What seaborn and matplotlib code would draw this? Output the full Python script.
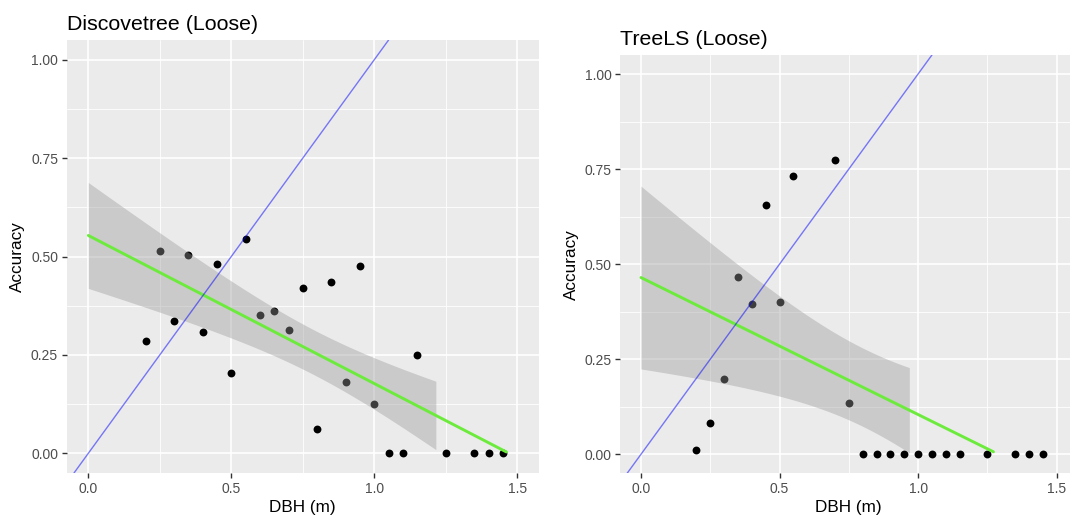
import math

import numpy as np
import pandas as pd
import seaborn as sns
import matplotlib
matplotlib.use("Agg")
import matplotlib.pyplot as plt
from matplotlib.ticker import FixedLocator

# ---- data -----------------------------------------------------------------
dbh_discovetree = [0.20, 0.25, 0.30, 0.35, 0.40, 0.45, 0.50, 0.55, 0.60, 0.65,
                   0.70, 0.75, 0.80, 0.85, 0.90, 0.95, 1.00, 1.05, 1.10, 1.15,
                   1.25, 1.35, 1.40, 1.45]
acc_discovetree = [0.286, 0.514, 0.335, 0.505, 0.307, 0.481, 0.205, 0.544, 0.351, 0.362,
                   0.313, 0.420, 0.062, 0.435, 0.182, 0.476, 0.125, 0.000, 0.000, 0.250,
                   0.000, 0.000, 0.000, 0.000]

dbh_treels = [0.20, 0.25, 0.30, 0.35, 0.40, 0.45, 0.50, 0.55, 0.70, 0.75,
              0.80, 0.85, 0.90, 0.95, 1.00, 1.05, 1.10, 1.15, 1.25, 1.35,
              1.40, 1.45]
acc_treels = [0.011, 0.083, 0.199, 0.465, 0.394, 0.655, 0.400, 0.733, 0.773, 0.136,
              0.000, 0.000, 0.000, 0.000, 0.000, 0.000, 0.000, 0.000, 0.000, 0.000,
              0.000, 0.000]

panel_titles = ["Discovetree (Loose)", "TreeLS (Loose)"]
x_breaks = [0.0, 0.5, 1.0, 1.5]
x_labels = ["0.0", "0.5", "1.0", "1.5"]
y_breaks = [0.00, 0.25, 0.50, 0.75, 1.00]
y_labels = ["0.00", "0.25", "0.50", "0.75", "1.00"]
x_limits = (0.0, 1.5)
y_limits = (0.0, 1.0)

# ---- helpers ----------------------------------------------------------------
def t_quantile(p, dof):
    """Student t quantile (Cornish-Fisher expansion around the normal quantile)."""
    try:
        from scipy import stats
        return float(stats.t.ppf(p, dof))
    except Exception:
        pass
    # normal quantile via bisection on erf
    lo, hi = -10.0, 10.0
    for _ in range(200):
        mid = 0.5 * (lo + hi)
        if 0.5 * (1 + math.erf(mid / math.sqrt(2))) < p:
            lo = mid
        else:
            hi = mid
    z = 0.5 * (lo + hi)
    v = float(dof)
    g1 = (z**3 + z) / 4
    g2 = (5 * z**5 + 16 * z**3 + 3 * z) / 96
    g3 = (3 * z**7 + 19 * z**5 + 17 * z**3 - 15 * z) / 384
    g4 = (79 * z**9 + 776 * z**7 + 1482 * z**5 - 1920 * z**3 - 945 * z) / 92160
    return z + g1 / v + g2 / v**2 + g3 / v**3 + g4 / v**4


def linear_smooth(x, y, lo, hi, n=80, level=0.95):
    """OLS fit over [lo, hi] with a pointwise confidence band."""
    x = np.asarray(x, float)
    y = np.asarray(y, float)
    slope, intercept = np.polyfit(x, y, 1)
    grid = np.linspace(lo, hi, n)
    fit = intercept + slope * grid
    resid = y - (intercept + slope * x)
    dof = len(x) - 2
    s = np.sqrt(np.sum(resid**2) / dof)
    xbar = x.mean()
    sxx = np.sum((x - xbar) ** 2)
    se = s * np.sqrt(1.0 / len(x) + (grid - xbar) ** 2 / sxx)
    t = t_quantile(0.5 + level / 2, dof)
    return pd.DataFrame({"x": grid, "y": fit, "ymin": fit - t * se, "ymax": fit + t * se})


# ---- style ------------------------------------------------------------------
sns.set_theme(style="darkgrid", rc={
    "axes.facecolor": "#EBEBEB",
    "grid.color": "white",
    "axes.edgecolor": "none",
    "xtick.color": "#333333",
    "ytick.color": "#333333",
    "xtick.labelcolor": "#4D4D4D",
    "ytick.labelcolor": "#4D4D4D",
    "xtick.bottom": True,
    "ytick.left": True,
    "xtick.major.size": 3.8,
    "ytick.major.size": 3.8,
    "xtick.major.width": 1.0,
    "ytick.major.width": 1.0,
    "xtick.major.pad": 2.5,
    "ytick.major.pad": 2.5,
})
plt.rcParams["font.family"] = ["Liberation Sans", "DejaVu Sans"]

W, H = 1070, 519
fig = plt.figure(figsize=(W / 100, H / 100), dpi=100)

# panel rectangles in pixels: left, top, right, bottom
panel_px = [(66.85, 40.0, 538.75, 473.0), (620.2, 55.0, 1077.4, 473.3)]

datasets = [(dbh_discovetree, acc_discovetree), (dbh_treels, acc_treels)]

for (x0, y0, x1, y1), (dbh, acc), title in zip(panel_px, datasets, panel_titles):
    ax = fig.add_axes([x0 / W, 1 - y1 / H, (x1 - x0) / W, (y1 - y0) / H])
    ax.set_facecolor("#EBEBEB")

    xr = x_limits[1] - x_limits[0]
    yr = y_limits[1] - y_limits[0]
    ax.set_xlim(x_limits[0] - 0.05 * xr, x_limits[1] + 0.05 * xr)
    ax.set_ylim(y_limits[0] - 0.05 * yr, y_limits[1] + 0.05 * yr)

    ax.xaxis.set_major_locator(FixedLocator(x_breaks))
    ax.yaxis.set_major_locator(FixedLocator(y_breaks))
    ax.set_xticklabels(x_labels, fontsize=10)
    ax.set_yticklabels(y_labels, fontsize=10)
    ax.xaxis.set_minor_locator(FixedLocator([(a + b) / 2 for a, b in zip(x_breaks[:-1], x_breaks[1:])]))
    ax.yaxis.set_minor_locator(FixedLocator([(a + b) / 2 for a, b in zip(y_breaks[:-1], y_breaks[1:])]))
    ax.tick_params(which="minor", length=0)
    ax.grid(which="major", color="white", linewidth=1.2)
    ax.grid(which="minor", color="white", linewidth=0.6)
    ax.set_axisbelow(True)
    for sp in ax.spines.values():
        sp.set_visible(False)

    df = pd.DataFrame({"DBH": dbh, "Accuracy": acc})
    sns.scatterplot(data=df, x="DBH", y="Accuracy", ax=ax, color="black",
                    s=32, linewidth=0, zorder=2)

    sm = linear_smooth(dbh, acc, *x_limits)
    band = sm[(sm["ymin"] >= y_limits[0]) & (sm["ymax"] <= y_limits[1])]
    line = sm[(sm["y"] >= y_limits[0]) & (sm["y"] <= y_limits[1])]
    ax.fill_between(band["x"], band["ymin"], band["ymax"], color="#999999",
                    alpha=0.4, linewidth=0, zorder=3)
    sns.lineplot(data=line, x="x", y="y", ax=ax, color="#6CEB3C", linewidth=2.1,
                 estimator=None, sort=False, zorder=4)

    ax.axline((0, 0), slope=1, color="blue", alpha=0.5, linewidth=1.0, zorder=5)

    ax.set_xlabel("DBH (m)", fontsize=12.3, color="black", labelpad=3)
    ax.set_ylabel("Accuracy", fontsize=12.3, color="black", labelpad=4)
    ax.set_title(title, loc="left", fontsize=15.4, color="black", pad=7)

fig.savefig("out.png", dpi=100)
